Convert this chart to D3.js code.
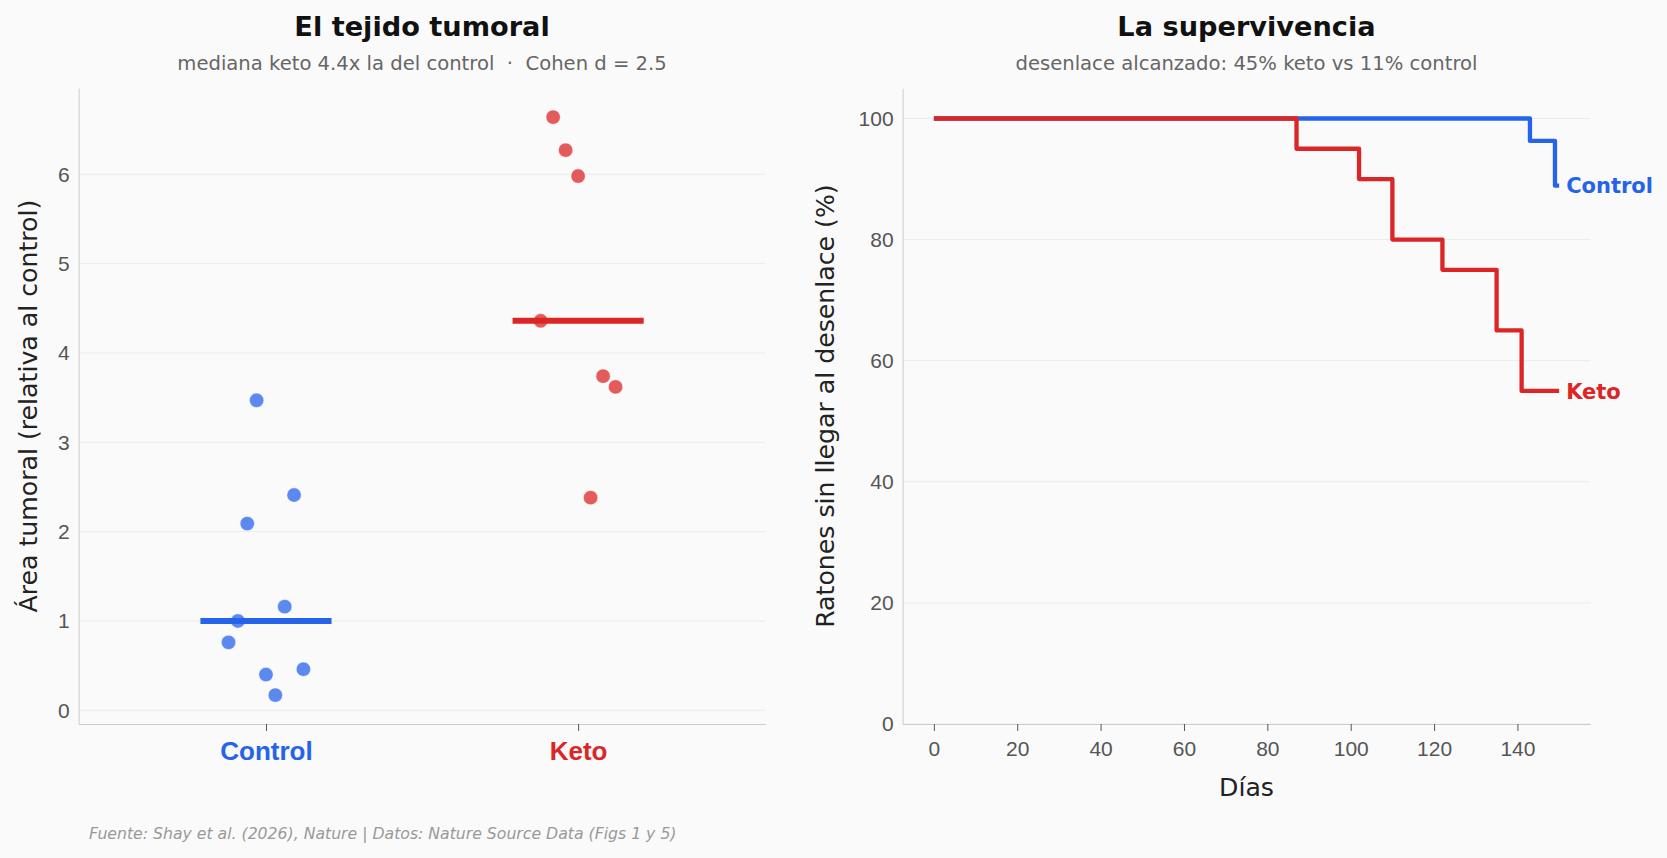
<!DOCTYPE html>
<html>
<head>
<meta charset="utf-8">
<script src="https://cdn.jsdelivr.net/npm/d3@7"></script>
<style>
  html, body { margin: 0; padding: 0; background: #fafafa; }
  svg { display: block; font-family: "DejaVu Sans", sans-serif; }
</style>
</head>
<body>
<svg id="chart"></svg>
<script>
const width = 1667;
const height = 858;

// left panel: tumour area, relative to control
const groups = ['Control', 'Keto'];
const groupColors = ['#2563eb', '#dc2626'];
const controlArea = [3.47, 2.41, 2.09, 1.16, 1.00, 0.76, 0.40, 0.46, 0.17];
const controlJitter = [-0.03, 0.09, -0.06, 0.06, -0.09, -0.12, 0.00, 0.12, 0.03];
const ketoArea = [6.64, 6.27, 5.98, 4.36, 3.74, 3.62, 2.38];
const ketoJitter = [-0.08, -0.04, 0.00, -0.12, 0.08, 0.12, 0.04];
const areaTicks = [0, 1, 2, 3, 4, 5, 6];

// right panel: survival curves (% of mice not reaching endpoint)
const controlDays = [0, 143, 149, 150];
const controlSurv = [100, 96.3, 88.9, 88.9];
const ketoDays = [0, 87, 102, 110, 122, 135, 141, 150];
const ketoSurv = [100, 95, 90, 80, 75, 65, 55, 55];
const dayTicks = [0, 20, 40, 60, 80, 100, 120, 140];
const survTicks = [0, 20, 40, 60, 80, 100];

const svg = d3.select('#chart')
  .attr('width', width)
  .attr('height', height);

svg.append('rect')
  .attr('width', width)
  .attr('height', height)
  .attr('fill', '#fafafa');

const plotTop = 88.2, plotBottom = 724;
const left1 = 78.7, right1 = 765.4;
const left2 = 902.6, right2 = 1590.4;

const tickColor = '#555';
const gridColor = '#ebebeb';
const spineColor = '#ccc';
const tickFont = '21px';

// ---------- left panel ----------
const allArea = controlArea.concat(ketoArea);
const aMin = d3.min(allArea), aMax = d3.max(allArea);
const aPad = (aMax - aMin) * 0.05;

const x1 = d3.scaleLinear().domain([-0.6, 1.6]).range([left1, right1]);
const y1 = d3.scaleLinear().domain([aMin - aPad, aMax + aPad]).range([plotBottom, plotTop]);

const g1 = svg.append('g');

g1.selectAll('.grid')
  .data(areaTicks)
  .enter().append('line')
    .attr('x1', left1).attr('x2', right1)
    .attr('y1', d => y1(d)).attr('y2', d => y1(d))
    .attr('stroke', gridColor)
    .attr('stroke-width', 1);

const yAxis1 = g1.append('g')
  .attr('transform', `translate(${left1},0)`)
  .call(d3.axisLeft(y1).tickValues(areaTicks).tickSize(0).tickSizeOuter(0).tickPadding(9).tickFormat(d3.format('d')));
yAxis1.select('.domain').attr('stroke', spineColor);
yAxis1.selectAll('text')
  .attr('fill', tickColor)
  .style('font-size', tickFont);

const xAxis1 = g1.append('g')
  .attr('transform', `translate(0,${plotBottom})`)
  .call(d3.axisBottom(x1).tickValues([0, 1]).tickSizeInner(7).tickSizeOuter(0).tickPadding(10).tickFormat(i => groups[i]));
xAxis1.select('.domain').attr('stroke', spineColor);
xAxis1.selectAll('.tick line').attr('stroke', tickColor);
xAxis1.selectAll('text')
  .attr('fill', (d) => groupColors[d])
  .attr('y', 36)
  .attr('dy', 0)
  .style('font-size', '26px')
  .style('font-weight', 'bold');

const series = [
  {values: controlArea, jitter: controlJitter, idx: 0},
  {values: ketoArea, jitter: ketoJitter, idx: 1}
];

series.forEach((s) => {
  g1.selectAll(`.dot-${s.idx}`)
    .data(s.values)
    .enter().append('circle')
      .attr('cx', (d, i) => x1(s.idx + s.jitter[i]))
      .attr('cy', d => y1(d))
      .attr('r', 7.2)
      .attr('fill', groupColors[s.idx])
      .attr('fill-opacity', 0.75)
      .attr('stroke', '#fff')
      .attr('stroke-width', 0.5);
});

series.forEach((s) => {
  const med = d3.median(s.values);
  g1.append('line')
    .attr('x1', x1(s.idx - 0.21))
    .attr('x2', x1(s.idx + 0.21))
    .attr('y1', y1(med))
    .attr('y2', y1(med))
    .attr('stroke', groupColors[s.idx])
    .attr('stroke-width', 6);
});

// titles, left
const c1 = (left1 + right1) / 2;
svg.append('text')
  .attr('x', c1).attr('y', 35.7)
  .attr('text-anchor', 'middle')
  .attr('fill', '#111')
  .style('font-size', '27.2px')
  .style('font-weight', 'bold')
  .text('El tejido tumoral');
svg.append('text')
  .attr('x', c1).attr('y', 70)
  .attr('text-anchor', 'middle')
  .attr('fill', '#666')
  .style('font-size', '19.6px')
  .style('white-space', 'pre')
  .text('mediana keto 4.4x la del control  ·  Cohen d = 2.5');
svg.append('text')
  .attr('transform', `translate(37,${(plotTop + plotBottom) / 2}) rotate(-90)`)
  .attr('text-anchor', 'middle')
  .attr('fill', '#222')
  .style('font-size', '25.2px')
  .text('Área tumoral (relativa al control)');

// ---------- right panel ----------
const x2 = d3.scaleLinear().domain([-7.5, 157.5]).range([left2, right2]);
const y2 = d3.scaleLinear().domain([0, 105]).range([plotBottom, plotTop]);

const g2 = svg.append('g');

g2.selectAll('.grid')
  .data(survTicks)
  .enter().append('line')
    .attr('x1', left2).attr('x2', right2)
    .attr('y1', d => y2(d)).attr('y2', d => y2(d))
    .attr('stroke', gridColor)
    .attr('stroke-width', 1);

const yAxis2 = g2.append('g')
  .attr('transform', `translate(${left2},0)`)
  .call(d3.axisLeft(y2).tickValues(survTicks).tickSize(0).tickSizeOuter(0).tickPadding(9));
yAxis2.select('.domain').attr('stroke', spineColor);
yAxis2.selectAll('text')
  .attr('fill', tickColor)
  .style('font-size', tickFont);

const xAxis2 = g2.append('g')
  .attr('transform', `translate(0,${plotBottom})`)
  .call(d3.axisBottom(x2).tickValues(dayTicks).tickSizeInner(7).tickSizeOuter(0).tickPadding(10));
xAxis2.select('.domain').attr('stroke', spineColor);
xAxis2.selectAll('.tick line').attr('stroke', tickColor);
xAxis2.selectAll('text')
  .attr('fill', tickColor)
  .style('font-size', tickFont);

const curves = [
  {name: 'Control', days: controlDays, surv: controlSurv, color: groupColors[0]},
  {name: 'Keto', days: ketoDays, surv: ketoSurv, color: groupColors[1]}
];

const step = d3.line()
  .x(d => x2(d[0]))
  .y(d => y2(d[1]))
  .curve(d3.curveStepAfter);

curves.forEach((c) => {
  const pts = c.days.map((d, i) => [d, c.surv[i]]);
  g2.append('path')
    .attr('d', step(pts))
    .attr('fill', 'none')
    .attr('stroke', c.color)
    .attr('stroke-width', 4.3)
    .attr('stroke-linejoin', 'round');
  const last = pts[pts.length - 1];
  g2.append('text')
    .attr('x', x2(last[0]) + 7)
    .attr('y', y2(last[1]))
    .attr('dy', '0.36em')
    .attr('fill', c.color)
    .style('font-size', '21px')
    .style('font-weight', 'bold')
    .text(c.name);
});

const c2 = (left2 + right2) / 2;
svg.append('text')
  .attr('x', c2).attr('y', 35.7)
  .attr('text-anchor', 'middle')
  .attr('fill', '#111')
  .style('font-size', '27.2px')
  .style('font-weight', 'bold')
  .text('La supervivencia');
svg.append('text')
  .attr('x', c2).attr('y', 70)
  .attr('text-anchor', 'middle')
  .attr('fill', '#666')
  .style('font-size', '19.6px')
  .text('desenlace alcanzado: 45% keto vs 11% control');
svg.append('text')
  .attr('x', c2).attr('y', 796)
  .attr('text-anchor', 'middle')
  .attr('fill', '#222')
  .style('font-size', '25.2px')
  .text('Días');
svg.append('text')
  .attr('transform', `translate(834,${(plotTop + plotBottom) / 2}) rotate(-90)`)
  .attr('text-anchor', 'middle')
  .attr('fill', '#222')
  .style('font-size', '25.2px')
  .text('Ratones sin llegar al desenlace (%)');

// source
svg.append('text')
  .attr('x', 89).attr('y', 839)
  .attr('fill', '#999')
  .style('font-size', '15.7px')
  .style('font-style', 'italic')
  .text('Fuente: Shay et al. (2026), Nature | Datos: Nature Source Data (Figs 1 y 5)');
</script>
</body>
</html>
